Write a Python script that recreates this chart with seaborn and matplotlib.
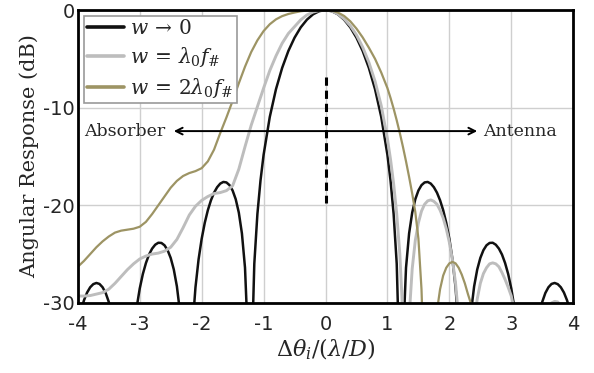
import numpy as np
import pandas as pd
import matplotlib
matplotlib.use("Agg")
import matplotlib.pyplot as plt
import seaborn as sns

# normalised angle, lambda/D units: coarse steps in the smooth parts, finer ones in the side lobes
fine = np.round(np.arange(1.0, 4.001, 0.05), 2)
theta_w0 = np.concatenate([-fine[::-1], np.round(np.arange(-0.9, 0.901, 0.1), 1), fine])
theta_wide = np.concatenate([np.round(np.arange(-4.0, 0.91, 0.1), 1), fine])

# angular response (dB)
resp_w0 = [-32.19, -30.78, -29.73, -28.94, -28.4, -28.08, -27.96, -28.06, -28.4, -28.99,
           -29.9, -31.2, -33.1, -36.0, -40.7, -50.0, -44.5, -37.0, -33.1, -30.48,
           -28.53, -27.05, -25.92, -25.05, -24.44, -24.04, -23.84, -23.86, -24.1, -24.6,
           -25.4, -26.58, -28.31, -30.93, -35.4, -45.0, -40.9, -32.66, -28.41, -25.55,
           -23.44, -21.8, -20.5, -19.49, -18.71, -18.15, -17.78, -17.61, -17.66, -17.94,
           -18.49, -19.38, -20.75, -22.88, -26.4, -34.2, -37.5, -26.0, -20.9, -17.47,
           -14.84,
           -10.95, -8.11, -5.92, -4.19, -2.83, -1.77, -0.98, -0.43, -0.11, 0.0,
           -0.11, -0.43, -0.98, -1.77, -2.83, -4.19, -5.92, -8.11, -10.95,
           -14.84,
           -17.47, -20.9, -26.0, -37.5, -34.2, -26.4, -22.88, -20.75, -19.38, -18.49,
           -17.94, -17.66, -17.61, -17.78, -18.15, -18.71, -19.49, -20.5, -21.8, -23.44,
           -25.55, -28.41, -32.66, -40.9, -45.0, -35.4, -30.93, -28.31, -26.58, -25.4,
           -24.6, -24.1, -23.86, -23.84, -24.04, -24.44, -25.05, -25.92, -27.05, -28.53,
           -30.48, -33.1, -37.0, -44.5, -50.0, -40.7, -36.0, -33.1, -31.2, -29.9,
           -28.99, -28.4, -28.06, -27.96, -28.08, -28.4, -28.94, -29.73, -30.78, -32.19]

resp_w1 = [-29.3, -29.3, -29.25, -29.1, -28.95, -28.6, -28.0, -27.3, -26.6, -26.0,
           -25.5, -25.2, -25.0, -24.9, -24.7, -24.3, -23.5, -22.3, -21.0, -20.1,
           -19.5, -19.1, -18.8, -18.7, -18.5, -18.0, -16.3, -14.0, -11.8, -9.9,
           -8.0, -6.2, -4.7, -3.4, -2.4, -1.7, -1.0, -0.5, -0.2, -0.05,
           0.0, -0.1, -0.4, -0.9, -1.6, -2.55, -3.8, -5.35, -7.3, -9.8,
           -13.2, -15.3, -17.8, -20.9, -25.0, -31.5, -42.0, -31.5, -26.5, -23.6,
           -21.8, -20.6, -19.9, -19.55, -19.45, -19.6, -19.9, -20.5, -21.3, -22.4,
           -23.8, -25.6, -28.0, -31.5, -38.0, -45.0, -42.0, -36.0, -32.0, -29.6,
           -28.0, -27.0, -26.4, -26.0, -25.9, -26.0, -26.3, -26.9, -27.6, -28.4,
           -29.3, -30.8, -34.0, -40.0, -45.0, -45.0, -42.0, -39.0, -36.0, -33.5,
           -32.0, -31.0, -30.4, -30.0, -29.85, -29.9, -30.3, -31.0, -32.0, -33.5,
           -35.0]

resp_w2 = [-26.3, -25.7, -25.0, -24.3, -23.7, -23.2, -22.8, -22.6, -22.5, -22.4,
           -22.2, -21.7, -20.9, -20.0, -19.1, -18.2, -17.5, -17.0, -16.7, -16.5,
           -16.2, -15.5, -14.3, -12.6, -11.0, -9.3, -7.5, -5.8, -4.3, -3.1,
           -2.15, -1.45, -0.95, -0.62, -0.4, -0.25, -0.12, -0.05, -0.02, 0.0,
           0.0, -0.05, -0.25, -0.6, -1.15, -1.9, -2.8, -3.85, -5.0, -6.4,
           -8.0, -9.0, -10.1, -11.3, -12.6, -14.0, -15.5, -17.1, -18.8, -20.7,
           -23.4, -28.6, -38.0, -45.0, -45.0, -36.0, -30.8, -28.6, -27.2, -26.4,
           -25.95, -25.8, -25.95, -26.4, -27.1, -28.0, -29.1, -30.1, -33.0, -38.0,
           -45.0, -45.0, -45.0, -45.0, -45.0, -45.0, -45.0, -45.0, -45.0, -45.0,
           -45.0, -45.0, -45.0, -45.0, -45.0, -45.0, -45.0, -45.0, -45.0, -45.0,
           -45.0, -45.0, -45.0, -45.0, -45.0, -45.0, -45.0, -45.0, -45.0, -45.0,
           -45.0]

labels = [r"$w\,\rightarrow\,0$", r"$w\,=\,\lambda_0 f_\#$", r"$w\,=\,2\lambda_0 f_\#$"]
colors = ["#111111", "#bdbdbd", "#9d9464"]
widths = [1.8, 2.1, 1.6]

arrow_y = -12.4
divider = (-6.9, -19.8)

df = pd.concat([
    pd.DataFrame({"dtheta": theta_w0, "dB": resp_w0, "case": labels[0]}),
    pd.DataFrame({"dtheta": theta_wide, "dB": resp_w1, "case": labels[1]}),
    pd.DataFrame({"dtheta": theta_wide, "dB": resp_w2, "case": labels[2]}),
])

sns.set_style("white")
plt.rcParams["mathtext.fontset"] = "dejavuserif"
plt.rcParams["axes.unicode_minus"] = False
plt.rcParams["font.family"] = ["DejaVu Sans"]

fig = plt.figure(figsize=(5.94, 3.73), dpi=100)
ax = fig.add_axes([0.131, 0.188, 0.834, 0.785])

sns.lineplot(data=df, x="dtheta", y="dB", hue="case", hue_order=labels,
             palette=dict(zip(labels, colors)), linewidth=2.0, ax=ax)
for line, lw in zip(ax.lines, widths):
    line.set_linewidth(lw)

ax.set_xlim(-4, 4)
ax.set_ylim(-30, 0)
ax.set_xticks(range(-4, 5))
ax.set_yticks([-30, -20, -10, 0])
ax.grid(True, color="#cfcfcf", lw=1)
ax.set_axisbelow(True)
for s in ax.spines.values():
    s.set_color("black")
    s.set_linewidth(2)
ax.tick_params(length=0, labelsize=14)
ax.tick_params(axis="x", pad=9)
ax.tick_params(axis="y", pad=2)

ax.set_xlabel(r"$\Delta\theta_i/(\lambda/D)$", fontsize=16, labelpad=2)
ax.set_ylabel("Angular Response (dB)", fontsize=15, family="DejaVu Serif", labelpad=3)

# absorber / antenna divider
ax.plot([0, 0], list(divider), color="black", lw=2.2, dashes=(2.7, 1.6))
ax.annotate("", xy=(-2.45, arrow_y), xytext=(2.45, arrow_y),
            arrowprops=dict(arrowstyle="<->", lw=1.4, color="black", mutation_scale=12,
                            shrinkA=0, shrinkB=0))
ax.text(-2.58, arrow_y, "Absorber", ha="right", va="center", fontsize=12.5, family="DejaVu Serif")
ax.text(2.55, arrow_y, "Antenna", ha="left", va="center", fontsize=12.5, family="DejaVu Serif")

leg = ax.legend(loc="upper left", fontsize=14.5, frameon=True, fancybox=False,
                edgecolor="#999999", framealpha=1, handlelength=1.85,
                labelspacing=0.35, borderaxespad=0.3, borderpad=0.15, handletextpad=0.3)
leg.get_frame().set_linewidth(1.2)
for line in leg.get_lines():
    line.set_linewidth(2.6)

fig.savefig("out.png", dpi=100)
